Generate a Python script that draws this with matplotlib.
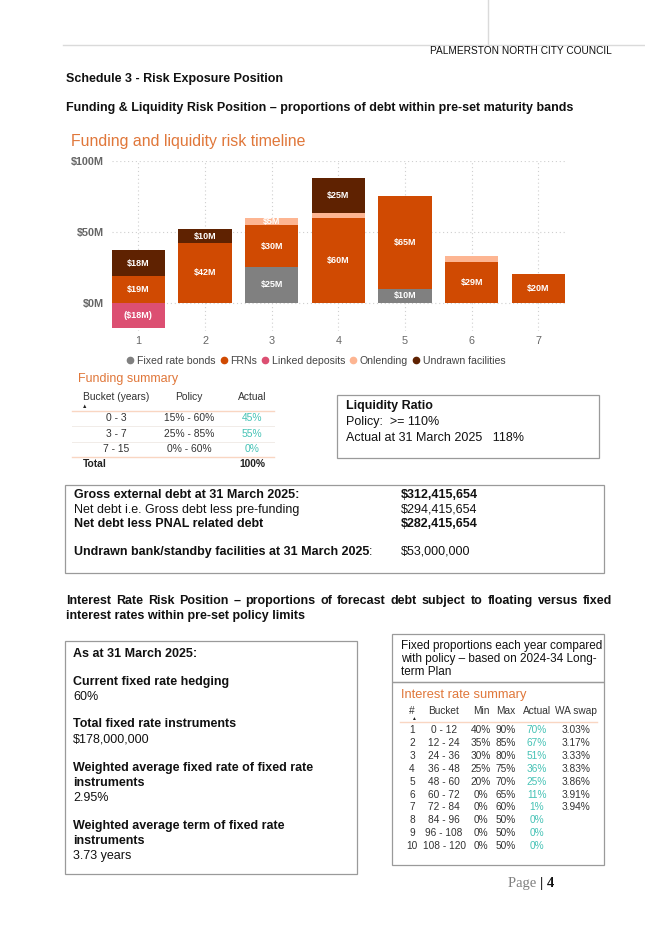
"""Schedule 3 risk exposure page: funding timeline chart plus summary tables"""
import numpy as np
import matplotlib
matplotlib.use("Agg")
import matplotlib.pyplot as plt
from matplotlib.lines import Line2D
from matplotlib.patches import Rectangle

plt.rcParams['font.family'] = ['Liberation Sans', 'DejaVu Sans']

# ---- chart data ($M per maturity bucket) ----
buckets = ['1', '2', '3', '4', '5', '6', '7']
fixed_rate_bonds = [0, 0, 25, 0, 10, 0, 0]
frns = [19, 42, 30, 60, 65, 29, 20]
linked_deposits = [-18, 0, 0, 0, 0, 0, 0]
onlending = [0, 0, 5, 3, 0, 4, 0]
undrawn_facilities = [18, 10, 0, 25, 0, 0, 0]
y_ticks = [0, 50, 100]

# ---- funding summary table ----
fund_buckets = ['0 - 3', '3 - 7', '7 - 15']
fund_policy = ['15% - 60%', '25% - 85%', '0% - 60%']
fund_actual = ['45%', '55%', '0%']
fund_total = '100%'

# ---- interest rate summary table ----
ir_num = ['1', '2', '3', '4', '5', '6', '7', '8', '9', '10']
ir_bucket = ['0 - 12', '12 - 24', '24 - 36', '36 - 48', '48 - 60', '60 - 72',
             '72 - 84', '84 - 96', '96 - 108', '108 - 120']
ir_min = ['40%', '35%', '30%', '25%', '20%', '0%', '0%', '0%', '0%', '0%']
ir_max = ['90%', '85%', '80%', '75%', '70%', '65%', '60%', '50%', '50%', '50%']
ir_actual = ['70%', '67%', '51%', '36%', '25%', '11%', '1%', '0%', '0%', '0%']
ir_swap = ['3.03%', '3.17%', '3.33%', '3.83%', '3.86%', '3.91%', '3.94%', '', '', '']

C_FIXED = '#808080'
C_FRN = '#D04A02'
C_LINKED = '#DC4F72'
C_ONLEND = '#FDB592'
C_UNDRAWN = '#5F2201'
C_TITLE = '#E0773A'
C_TEAL = '#45C2B5'
C_PEACH = '#F9D6C2'
C_BOX = '#9A9A9A'

W, H = 645, 926
fig = plt.figure(figsize=(W / 100, H / 100), dpi=100)


def fx(px):
    return px / W


def fy(py):
    return 1 - py / H


def put(x, y, s, **kw):
    kw.setdefault('va', 'center')
    kw.setdefault('fontsize', 9)
    kw.setdefault('color', '#111111')
    return fig.text(fx(x), fy(y), s, **kw)


def hline(y, x0, x1, color, lw=0.8):
    fig.add_artist(Line2D([fx(x0), fx(x1)], [fy(y), fy(y)], color=color, lw=lw,
                          transform=fig.transFigure))


def box(x0, y0, x1, y1):
    fig.add_artist(Rectangle((fx(x0), fy(y1)), fx(x1) - fx(x0), fy(y0) - fy(y1),
                             fill=False, ec=C_BOX, lw=0.9, transform=fig.transFigure))


def justify(y, x0, x1, s, **kw):
    words = s.split()
    texts = [put(x0, y, w, **kw) for w in words]
    rend = fig.canvas.get_renderer()
    widths = [t.get_window_extent(rend).width for t in texts]
    gap = ((x1 - x0) - sum(widths)) / (len(words) - 1)
    x = x0
    for t, w in zip(texts, widths):
        t.set_x(fx(x))
        x += w + gap


# ---- page header ----
hline(45, 63, 645, '#DADADA', lw=1.0)
fig.add_artist(Line2D([fx(488), fx(488)], [fy(0), fy(45)], color='#DADADA', lw=1.0,
                      transform=fig.transFigure))
put(612, 51, 'PALMERSTON NORTH CITY COUNCIL', ha='right', fontsize=7.3)
put(66, 79, 'Schedule 3 - Risk Exposure Position', fontweight='bold')
put(66, 108, 'Funding & Liquidity Risk Position \u2013 proportions of debt within '
             'pre-set maturity bands', fontweight='bold')

# ---- funding and liquidity risk timeline chart ----
put(71, 141, 'Funding and liquidity risk timeline', fontsize=11.4, color=C_TITLE)
ax = fig.add_axes([fx(111.7), fy(331), (565 - 111.7) / W, 170 / H])
x = np.arange(1, len(buckets) + 1)
bottom = np.zeros(len(buckets))


def label_segments(base, vals):
    for xi, b, v in zip(x, base, vals):
        if abs(v) >= 5:
            txt = f'(${abs(v)}M)' if v < 0 else f'${v}M'
            ax.text(xi, b + v / 2, txt, ha='center', va='center', color='white',
                    fontsize=6.5, fontweight='bold')


for vals, color in [(fixed_rate_bonds, C_FIXED), (frns, C_FRN),
                    (onlending, C_ONLEND), (undrawn_facilities, C_UNDRAWN)]:
    vals = np.array(vals)
    ax.bar(x, vals, 0.8, bottom=bottom, color=color, zorder=2)
    label_segments(bottom, vals)
    bottom = bottom + vals
ax.bar(x, linked_deposits, 0.8, color=C_LINKED, zorder=2)
label_segments(np.zeros(len(buckets)), np.array(linked_deposits))

ax.set_xlim(0.6, 7.4)
ax.set_ylim(-20, 100)
ax.set_xticks(x)
ax.set_xticklabels(buckets)
ax.set_yticks(y_ticks)
ax.set_yticklabels([f'${v}M' for v in y_ticks], fontweight='bold')
ax.tick_params(length=0, colors='#666666', labelsize=7.8)
ax.tick_params(axis='y', pad=5.5)
ax.tick_params(axis='x', pad=3.5)
ax.grid(True, linestyle=(0, (1, 2.5)), color='#CFCFCF', lw=0.8, zorder=0)
ax.set_axisbelow(True)
for sp in ax.spines.values():
    sp.set_visible(False)

handles = [Line2D([], [], marker='o', ls='', color=c, markersize=4.5)
           for c in [C_FIXED, C_FRN, C_LINKED, C_ONLEND, C_UNDRAWN]]
fig.legend(handles, ['Fixed rate bonds', 'FRNs', 'Linked deposits', 'Onlending',
                     'Undrawn facilities'],
           loc='center', bbox_to_anchor=(fx(316), fy(361)), ncol=5, frameon=False,
           fontsize=7.6, handlelength=0.7, handletextpad=0.25, columnspacing=0.45,
           labelcolor='#444444', borderpad=0)

# ---- funding summary table ----
put(78, 379, 'Funding summary', fontsize=9, color=C_TITLE)
tkw = dict(fontsize=7.4, color='#333333', ha='center')
put(116, 397, 'Bucket (years)', **tkw)
put(189, 397, 'Policy', **tkw)
put(252, 397, 'Actual', **tkw)
put(85, 406, '\u25B2', fontsize=4, color='#222222', ha='center')
hline(411, 72, 274, C_PEACH, lw=1.0)
for i, (b, p, a) in enumerate(zip(fund_buckets, fund_policy, fund_actual)):
    yy = 418 + i * 15.5
    put(116, yy, b, **tkw)
    put(189, yy, p, **tkw)
    put(252, yy, a, fontsize=7.4, color=C_TEAL, ha='center')
    if i < 2:
        hline(yy + 8, 72, 274, '#F1ECE8', lw=0.7)
hline(457, 72, 274, C_PEACH, lw=1.0)
put(83, 464, 'Total', fontsize=7.4, fontweight='bold', color='#222222')
put(252, 464, fund_total, fontsize=7.4, fontweight='bold', color='#222222', ha='center')

# ---- liquidity ratio box ----
box(337, 395, 599, 458)
put(346, 406, 'Liquidity Ratio', fontweight='bold')
put(346, 422, 'Policy:  >= 110%')
put(346, 438, 'Actual at 31 March 2025   118%')

# ---- debt box ----
box(65, 485, 604, 573)
put(74, 495, 'Gross external debt at 31 March 2025:', fontweight='bold')
put(401, 495, '$312,415,654', fontweight='bold')
put(74, 510, 'Net debt i.e. Gross debt less pre-funding')
put(401, 510, '$294,415,654')
put(74, 524, 'Net debt less PNAL related debt', fontweight='bold')
put(401, 524, '$282,415,654', fontweight='bold')
t = put(74, 552, 'Undrawn bank/standby facilities at 31 March 2025', fontweight='bold')
ext = t.get_window_extent(fig.canvas.get_renderer())
put(74 + ext.width, 552, ':')
put(401, 552, '$53,000,000')

# ---- interest rate section ----
justify(601, 66, 612, 'Interest Rate Risk Position \u2013 proportions of forecast debt '
        'subject to floating versus fixed', fontweight='bold')
put(66, 616, 'interest rates within pre-set policy limits', fontweight='bold')

box(65, 641, 357, 874)
lines = [(654, 'As at 31 March 2025:', True),
         (682, 'Current fixed rate hedging', True), (697, '60%', False),
         (724, 'Total fixed rate instruments', True), (740, '$178,000,000', False),
         (768, 'Weighted average fixed rate of fixed rate', True),
         (783, 'instruments', True), (798, '2.95%', False),
         (826, 'Weighted average term of fixed rate', True),
         (841, 'instruments', True), (856, '3.73 years', False)]
for yy, s, bold in lines:
    put(73, yy, s, fontweight='bold' if bold else 'normal')

box(392, 634, 604, 682)
put(401, 646, 'Fixed proportions each year compared', fontsize=8.5)
put(401, 659, 'with policy \u2013 based on 2024-34 Long-', fontsize=8.5)
put(401, 672, 'term Plan', fontsize=8.5)
box(392, 682, 604, 865)

# ---- interest rate summary table ----
put(401, 695, 'Interest rate summary', fontsize=9.3, color=C_TITLE)
ikw = dict(fontsize=7.3, color='#333333', ha='center')
cols = [412, 444, 481, 506, 537, 576]
for cx, head in zip(cols, ['#', 'Bucket', 'Min', 'Max', 'Actual', 'WA swap']):
    put(cx, 711, head, **ikw)
put(413, 718, '\u25B2', fontsize=3.5, color='#222222', ha='center')
hline(722, 400, 597, C_PEACH, lw=1.0)
for i in range(len(ir_num)):
    yy = 730 + i * 12.9
    put(cols[0], yy, ir_num[i], **ikw)
    put(cols[1], yy, ir_bucket[i], **ikw)
    put(cols[2], yy, ir_min[i], **ikw)
    put(cols[3], yy, ir_max[i], **ikw)
    put(cols[4], yy, ir_actual[i], fontsize=7.3, color=C_TEAL, ha='center')
    put(cols[5], yy, ir_swap[i], **ikw)

# ---- page number ----
pg = put(508, 884, 'Page ', fontsize=10.5, color='#7F7F7F', family='Liberation Serif')
ext = pg.get_window_extent(fig.canvas.get_renderer())
put(508 + ext.width, 884, '| 4', fontsize=10.5, fontweight='bold', color='#111111',
    family='Liberation Serif')

fig.savefig('out.png', dpi=100)
